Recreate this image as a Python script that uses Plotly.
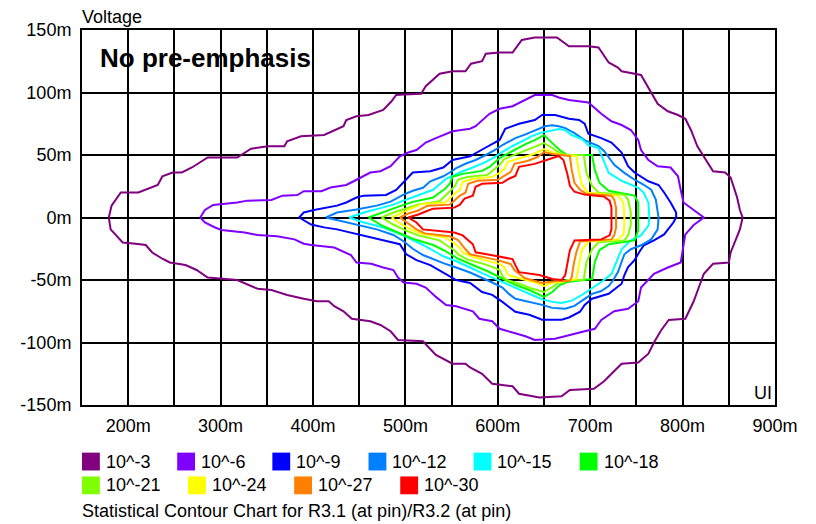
import plotly.graph_objects as go

# ---------------- data (x in mUI, y in mV) ----------------
levels = ["10^-3", "10^-6", "10^-9", "10^-12", "10^-15",
          "10^-18", "10^-21", "10^-24", "10^-27", "10^-30"]
colors = ["#800080", "#8000FF", "#0000FF", "#0080FF", "#00FFFF",
          "#00FF00", "#80FF00", "#FFFF00", "#FF8000", "#FF0000"]

x_ticks = [200, 250, 300, 350, 400, 450, 500, 550, 600, 650, 700, 750, 800, 850, 900]
x_tick_text = ["200m", "", "300m", "", "400m", "", "500m", "", "600m", "", "700m", "", "800m", "", "900m"]
y_ticks = [-150, -100, -50, 0, 50, 100, 150]
y_tick_text = ["-150m", "-100m", "-50m", "0m", "50m", "100m", "150m"]

# 10^-3
e3_x_top = [179,182,192,211,232,237,248,258,269,286,318,333,351,369,372,387,412,423,433,436,447,460,476,485,490,498,517,522,537,551,565,571,583,587,602,616,626,640,664,677,698,709,720,730,734,755,764,773,784,795,803,809,816,825,833,846,852,859,862,865]
e3_y_top = [0,9.5,20,20,26,33,36,36,40,48,48,55,57,57,61,65,66,70,73,78,81,82,86,93,98,98.5,99,105,115,117,117,123,125,131,132,132,142,144,144,137,137,136,124,120,117,114,102,91,85,82,79,70,57,46,37,36,32,16,6,0]
e3_x_bot = [862,852,850,833,823,817,812,803,785,777,769,763,752,734,726,715,704,678,669,645,623,616,594,583,570,565,551,533,519,498,492,484,473,462,442,433,423,417,404,390,372,355,340,318,286,274,262,245,237,226,219,208,194,186,181,179]
e3_y_bot = [-9.5,-28,-36,-37,-45,-57,-67,-81,-82,-90,-100,-109,-116,-117,-123,-131,-137,-138,-143,-144,-141,-135,-133,-125,-120,-117,-117,-110,-99,-98,-98,-91,-86,-83,-81,-75,-71,-67,-67,-65,-62,-58,-57,-50,-48,-42,-38,-36,-33,-28,-22,-21,-20,-13.5,-9.5,0]

# 10^-6
e6_x_top = [278,283,292,318,329,355,367,383,390,409,419,436,444,462,473,484,494,503,512,522,533,551,570,576,591,602,616,630,640,659,666,677,698,712,723,734,744,752,755,763,773,787,795,798,801,812,823]
e6_y_top = [0,6,10,12,13.5,14,17.5,18,21,21,24,26,29,36,37,41,49,52,54,60,63.5,69,71,73,83,87,89,94,98,98,96,94,92,83,77,74,70,62,54,46,41,40,33,22,12,6,0]
e6_x_bot = [812,803,801,798,784,769,755,752,741,726,712,705,694,677,662,640,630,616,602,594,580,573,555,544,533,522,512,498,492,487,476,463,447,441,423,398,390,380,361,340,326,301,294,283,278]
e6_y_bot = [-6,-13.5,-22,-36,-40,-45,-56,-67,-73,-75,-82,-89,-91,-94,-97,-98,-95,-92,-89,-83,-81,-75,-71,-70,-63.5,-56,-53,-52,-48,-42,-40,-37,-36,-30,-24,-22,-21,-17.5,-15,-14,-12,-10,-8,-4,0]

# 10^-9
e9_x_top = [385,390,401,426,436,447,455,479,490,498,508,527,541,551,570,587,602,608,623,640,648,662,677,688,694,698,712,723,734,741,748,763,774,780,787,793,793]
e9_y_top = [0,4,6,9.5,12,16,17.5,18,22,28,36,37,40,46,49,56,62,71,75,78,82,82,79,78,75,67,63.5,60,52,41,36,29,26,20,12,4,0]
e9_x_bot = [790,784,780,769,758,753,748,741,737,734,720,702,694,689,677,669,648,634,619,605,594,583,570,555,544,527,512,501,494,476,447,426,412,398,385]
e9_y_bot = [-4,-9.5,-13.5,-18.3,-22.2,-27.8,-34.1,-39.7,-46,-53,-61,-65,-70,-75.4,-80,-81.8,-81.8,-77.8,-75.4,-67.5,-61.9,-59.6,-52.4,-50,-45.3,-38.1,-34.1,-29.4,-21.4,-18.3,-13.5,-9.5,-7.9,-5.6,0]

# 10^-12
e12_x_top = [414,426,447,469,484,498,508,519,527,541,548,555,565,576,587,597,605,612,619,630,645,651,659,666,673,683,694,702,709,715,726,737,748,758,766,771,773,774]
e12_y_top = [0,4,6.4,9.5,12.7,18.3,21.4,23.8,29,33,36,39.5,43,46,50,54,58,61,63.5,66.5,71.5,73,73.8,73,71.5,67.5,61.9,59.5,57.2,53.2,42.1,35.7,30.2,26.2,22.2,14.3,4,0]
e12_x_bot = [773,766,755,744,737,734,730,725,720,712,702,694,683,673,659,648,634,619,612,605,594,580,570,555,541,519,508,498,487,469,447,426,414]
e12_y_bot = [-9.5,-17.5,-22.2,-25.4,-29.4,-35.7,-43.7,-50,-54.8,-58.8,-61.1,-65.1,-70.7,-73,-72.3,-69.9,-67.5,-65,-61.1,-56,-52,-47.5,-44,-40,-36.5,-30,-25,-19,-14,-9.5,-5.6,-2.4,0]

# 10^-15
e15_x_top = [439,455,471,487,498,512,530,544,562,573,587,597,605,616,626,637,645,655,666,673,680,691,698,709,714,720,734,752,758,763,764]
e15_y_top = [0,4,7.1,10.3,13.5,17.5,22.2,31,37,40,44.5,48.5,52.5,57.2,61.1,65.1,67.5,69,70.7,69.9,66,62.7,58,55.6,46,35.7,29.4,23.8,19.8,11.9,0]
e15_x_bot = [763,755,744,734,728,723,712,705,698,691,680,669,659,648,637,626,612,597,583,570,555,541,519,498,476,455,439]
e15_y_bot = [-6.4,-14.3,-18.3,-25.4,-35.7,-45.3,-51.6,-55,-58,-62,-66.5,-68.3,-67.5,-65.5,-62,-58.5,-54,-49,-44.5,-40,-35,-31,-22,-14.5,-8,-4,0]

# 10^-18
e18_x_top = [460,476,492,508,530,537,543,548,551,562,583,591,596,602,616,630,640,650,659,667,675,702,705,710,720,748,752,752]
e18_y_top = [0,4.5,8.5,12.5,16,19.8,23,27,32.5,34.9,37.3,40.5,43.7,47.6,53.2,58.7,61.9,65.9,59.5,54,50,50,38.1,27.8,21.4,17.5,11.9,0]
e18_x_bot = [752,748,720,710,705,702,675,667,659,650,643,634,623,612,600,589,573,557,548,541,530,508,492,476,460]
e18_y_bot = [-10.3,-18.3,-21.4,-26.2,-35.7,-49.2,-51.6,-54,-59.6,-63.5,-61,-58,-55,-51.5,-47,-43,-38,-33,-29,-26,-22,-17,-12,-7,0]

# 10^-21
e21_x_top = [474,487,500,514,537,543,548,553,557,567,589,596,602,607,621,635,650,659,667,675,693,696,702,709,737,741,744,744]
e21_y_top = [0,4,7,10.5,13,17.5,21.4,24.6,30.2,32.5,34.1,38.1,42.1,46.8,50.8,54.8,59.5,55.6,51.6,50,50,35.7,25.4,19.8,18.3,14.3,4,0]
e21_x_bot = [744,741,737,709,702,696,693,675,667,659,650,635,621,610,605,602,596,589,567,557,553,548,543,537,514,500,487,474]
e21_y_bot = [-5.6,-14.3,-18.3,-19.8,-25.4,-35.7,-50,-50,-51.6,-55.6,-59.6,-56.4,-52.4,-50,-47,-42,-40,-38.1,-33.5,-29.5,-26.2,-24,-21.4,-18.3,-14.3,-10.3,-5.6,0]

# 10^-24
e24_x_top = [485,496,506,519,543,548,553,559,562,573,594,602,607,611,626,639,650,661,669,685,688,691,698,730,736,737,737]
e24_y_top = [0,4,7.1,11.1,11.9,15.1,19,22.2,28.6,31,32.5,35.7,38.9,44.5,47.6,50.8,54.8,51.6,50,49.2,35.7,26.2,19.8,17.5,11.9,4,0]
e24_x_bot = [737,736,730,698,691,688,685,669,661,650,639,626,611,607,602,594,573,562,559,553,548,543,519,506,496,485]
e24_y_bot = [-5.6,-13.5,-17.5,-19.1,-26.2,-37.3,-49.2,-51.6,-51.6,-54.8,-51.6,-49.2,-46,-39.7,-37.3,-35.7,-31.5,-28,-24.6,-20.6,-18.3,-15.9,-13.5,-9.5,-5.6,0]

# 10^-27
e27_x_top = [494,503,514,524,548,553,559,565,568,578,600,607,614,618,632,643,650,659,669,678,680,683,689,696,723,726,728,728]
e27_y_top = [0,3.2,5.6,9.5,10.3,13.5,17.5,19.8,27,29.4,30.2,33.3,36.5,42.9,45.2,48.4,52.4,50.8,50,49.2,38.1,27.8,22.2,19,17.5,14.3,7.9,0]
e27_x_bot = [728,726,723,689,685,682,680,678,664,648,629,618,614,600,570,565,557,548,521,512,503,494]
e27_y_bot = [-7.9,-14.3,-17.5,-19.1,-27.8,-38.1,-47.6,-50.8,-50.8,-52.4,-48.4,-42.1,-37.3,-34.1,-29.4,-25.4,-18,-15,-12.7,-9.5,-4.8,0]

# 10^-30
e30_x_top = [503,514,522,530,553,559,564,573,576,583,605,612,619,623,640,653,666,671,675,678,683,694,715,721,723,723]
e30_y_top = [0,2.4,4.8,7.1,7.9,10.3,15.1,17.5,24.6,27,27.8,31,33.3,40.5,42.9,46,49.2,46,35.7,25.4,20.6,18.3,16.7,13.5,7.9,0]
e30_x_bot = [723,721,712,683,678,675,673,669,659,645,623,619,616,594,576,573,562,553,527,519,512,503]
e30_y_bot = [-9.5,-14.3,-17.5,-18.3,-26.2,-38.1,-46,-50,-49.2,-46,-43.7,-38.1,-33.3,-30.2,-27.8,-21.4,-14.3,-12,-10.3,-9.5,-4,0]

contours = [
    (e3_x_top, e3_y_top, e3_x_bot, e3_y_bot),
    (e6_x_top, e6_y_top, e6_x_bot, e6_y_bot),
    (e9_x_top, e9_y_top, e9_x_bot, e9_y_bot),
    (e12_x_top, e12_y_top, e12_x_bot, e12_y_bot),
    (e15_x_top, e15_y_top, e15_x_bot, e15_y_bot),
    (e18_x_top, e18_y_top, e18_x_bot, e18_y_bot),
    (e21_x_top, e21_y_top, e21_x_bot, e21_y_bot),
    (e24_x_top, e24_y_top, e24_x_bot, e24_y_bot),
    (e27_x_top, e27_y_top, e27_x_bot, e27_y_bot),
    (e30_x_top, e30_y_top, e30_x_bot, e30_y_bot),
]

caption = "Statistical Contour Chart for R3.1 (at pin)/R3.2 (at pin)"

# ---------------- layout constants (screen pixels) ----------------
# the page body adds an 8px margin, so the figure starts at (8, 8) on screen
OFF = 8
W, H = 816 - OFF, 524 - OFF
PL, PR, PT, PB = 76, 775, 27, 405  # plot box in screen pixels
FONT = "Liberation Sans, Arial, sans-serif"


def fx(p):
    return (p - PL) / (PR - PL)


def fy(p):
    return (PB - p) / (PB - PT)


fig = go.Figure()
for (xt, yt, xb, yb), col, lab in zip(contours, colors, levels):
    fig.add_trace(go.Scatter(
        x=xt + xb, y=yt + yb, mode="lines", name=lab,
        line=dict(color=col, width=2), hoverinfo="skip", showlegend=False))

annotations = [
    dict(text="Voltage", x=fx(74), y=fy(14), xref="paper", yref="paper",
         xanchor="left", yanchor="middle", showarrow=False,
         font=dict(family=FONT, size=18, color="black")),
    dict(text="UI", x=fx(774), y=fy(393), xref="paper", yref="paper",
         xanchor="right", yanchor="middle", showarrow=False,
         font=dict(family=FONT, size=18, color="black")),
    dict(text="<b>No pre-emphasis</b>", x=fx(92), y=fy(55), xref="paper", yref="paper",
         xanchor="left", yanchor="middle", showarrow=False,
         font=dict(family=FONT, size=26, color="black")),
    dict(text=caption, x=fx(74), y=fy(512), xref="paper", yref="paper",
         xanchor="left", yanchor="middle", showarrow=False,
         font=dict(family=FONT, size=18, color="black")),
]

legend_row1_x = [76, 172, 268, 365, 471, 578]
legend_row2_x = [76, 183, 290, 397]
legend_pos = [(x, 462) for x in legend_row1_x] + [(x, 486) for x in legend_row2_x]
SQ = 18
shapes = []
for (lx, ly), col, lab in zip(legend_pos, colors, levels):
    shapes.append(dict(type="rect", xref="paper", yref="paper",
                       x0=fx(lx), x1=fx(lx + SQ), y0=fy(ly + SQ / 2), y1=fy(ly - SQ / 2),
                       fillcolor=col, line=dict(color=col, width=0)))
    annotations.append(dict(text=lab, x=fx(lx + SQ + 4), y=fy(ly), xref="paper", yref="paper",
                            xanchor="left", yanchor="middle", showarrow=False,
                            font=dict(family=FONT, size=18, color="black")))

fig.update_layout(
    width=W, height=H, autosize=False,
    margin=dict(l=PL - OFF, r=W - (PR - OFF), t=PT - OFF, b=H - (PB - OFF), pad=0),
    paper_bgcolor="white", plot_bgcolor="white",
    font=dict(family=FONT, size=18, color="black"),
    annotations=annotations, shapes=shapes, showlegend=False,
)
fig.update_xaxes(range=[150, 900], tickvals=x_ticks, ticktext=x_tick_text,
                 showgrid=True, gridcolor="black", gridwidth=1.5, zeroline=False,
                 showline=True, linecolor="black", linewidth=2, mirror=True,
                 ticks="", ticklabelstandoff=3, tickfont=dict(family=FONT, size=18))
fig.update_yaxes(range=[-150, 150], tickvals=y_ticks, ticktext=y_tick_text,
                 showgrid=True, gridcolor="black", gridwidth=1.5, zeroline=False,
                 showline=True, linecolor="black", linewidth=2, mirror=True,
                 ticks="", ticklabelstandoff=5, tickfont=dict(family=FONT, size=18))

fig.write_html("out.html")
